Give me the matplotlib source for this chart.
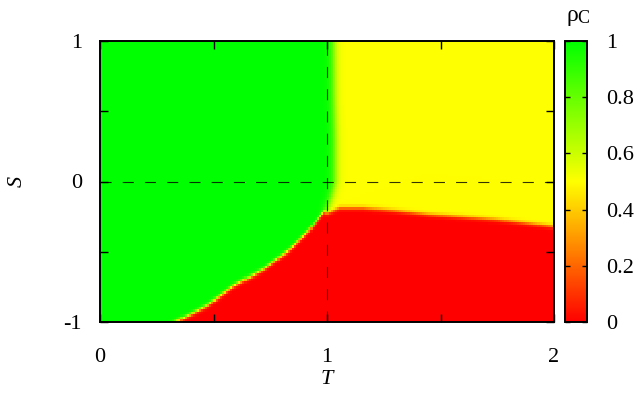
import numpy as np
import matplotlib
matplotlib.use("Agg")
import matplotlib.pyplot as plt
from matplotlib import font_manager
from matplotlib.colors import LinearSegmentedColormap

# Boundary between cooperation (green) and defection (red) region, S as function of T
T_bound = [0.0, 0.344, 0.47, 0.587, 0.719, 0.837, 0.925, 0.984, 1.0, 1.02, 1.057, 1.16, 1.30, 1.454, 1.60, 1.748, 1.98, 2.0]
S_bound = [-1.3, -1.0, -0.89, -0.749, -0.63, -0.487, -0.345, -0.215, -0.226, -0.215, -0.19, -0.19, -0.21, -0.238, -0.255, -0.274, -0.32, -0.325]
# Boundary between cooperation (green) and mixed (yellow) region, T as function of S
S_gy = [-1.0, -0.3, -0.2, -0.1, 0.0, 0.3, 0.6, 1.0]
T_gy = [1.0, 1.0, 1.0, 1.02, 1.035, 1.035, 1.03, 1.028]
rho_mixed = 0.5

x_ticks = [0, 1, 2]
y_ticks = [-1, 0, 1]
cb_ticks = [0, 0.2, 0.4, 0.6, 0.8, 1]
cb_labels = ['0', '0.2', '0.4', '0.6', '0.8', '1']


def find_font(name, style):
    for f in font_manager.fontManager.ttflist:
        if f.name == name and f.style == style and f.weight in (400, 'normal', 'regular'):
            return f.fname
    return None


reg = find_font('Liberation Serif', 'normal')
ita = find_font('Liberation Serif', 'italic')
FS = 16
fp = font_manager.FontProperties(fname=reg, size=FS) if reg else font_manager.FontProperties(family='serif', size=FS)
fpi = font_manager.FontProperties(fname=ita, size=FS) if ita else font_manager.FontProperties(family='serif', style='italic', size=FS)
plt.rcParams['axes.unicode_minus'] = False

T = np.linspace(0, 2, 220)
S = np.linspace(-1, 1, 110)
TT, SS = np.meshgrid(T, S)
b = np.interp(TT, T_bound, S_bound)
c = np.interp(SS, S_gy, T_gy)
sig1 = 1 / (1 + np.exp(-(SS - b) / 0.008))
sig2 = 1 / (1 + np.exp(-(c - TT) / 0.011))
rho = sig1 * (rho_mixed + (1 - rho_mixed) * sig2)

cmap = LinearSegmentedColormap.from_list('ryg', [(0, '#ff0000'), (0.5, '#ffff00'), (1, '#00ff00')])

fig = plt.figure(figsize=(6.39, 4.03), dpi=100)
ax = fig.add_axes([100/639, 81/403, 454/639, 281/403])
im = ax.imshow(rho, origin='lower', extent=[0, 2, -1, 1], aspect='auto', cmap=cmap,
               vmin=0, vmax=1, interpolation='nearest')
ax.axvline(1, color='black', lw=0.8, alpha=0.8, dashes=(10, 10))
ax.axhline(0, color='black', lw=0.8, alpha=0.8, dashes=(10, 10))
ax.set_xlim(0, 2)
ax.set_ylim(-1, 1)
ax.set_xticks(x_ticks)
ax.set_yticks(y_ticks)
ax.set_xticks([0.5, 1.5], minor=True)
ax.set_yticks([-0.5, 0.5], minor=True)
ax.tick_params(which='both', direction='in', top=True, right=True, length=6, width=1)
ax.tick_params(axis='x', pad=19)
ax.tick_params(axis='y', pad=13)
for lab in ax.get_xticklabels() + ax.get_yticklabels():
    lab.set_fontproperties(fp)
for s in ax.spines.values():
    s.set_linewidth(1.4)
fig.text(327/639, 1 - 379/403, 'T', fontproperties=fpi, ha='center', va='center')
fig.text(17/639, 1 - 181/403, 'S', fontproperties=fpi, ha='center', va='center', rotation=90)

cax = fig.add_axes([565/639, 81/403, 22/639, 281/403])
cb = fig.colorbar(im, cax=cax, ticks=cb_ticks)
cb.ax.set_yticklabels(cb_labels)
cax.tick_params(direction='in', left=True, right=True, length=3.5, width=1, pad=14)
for lab in cax.get_yticklabels():
    lab.set_fontproperties(fp)
cb.outline.set_linewidth(1.4)
fp_rho = fp.copy(); fp_rho.set_size(17)
fp_c = fp.copy(); fp_c.set_size(13)
fig.text(566/639, 1 - 21/403, 'ρ', fontproperties=fp_rho, va='baseline')
fig.text(577/639, 1 - 23/403, 'C', fontproperties=fp_c, va='baseline')

fig.savefig('out.png', dpi=100)
